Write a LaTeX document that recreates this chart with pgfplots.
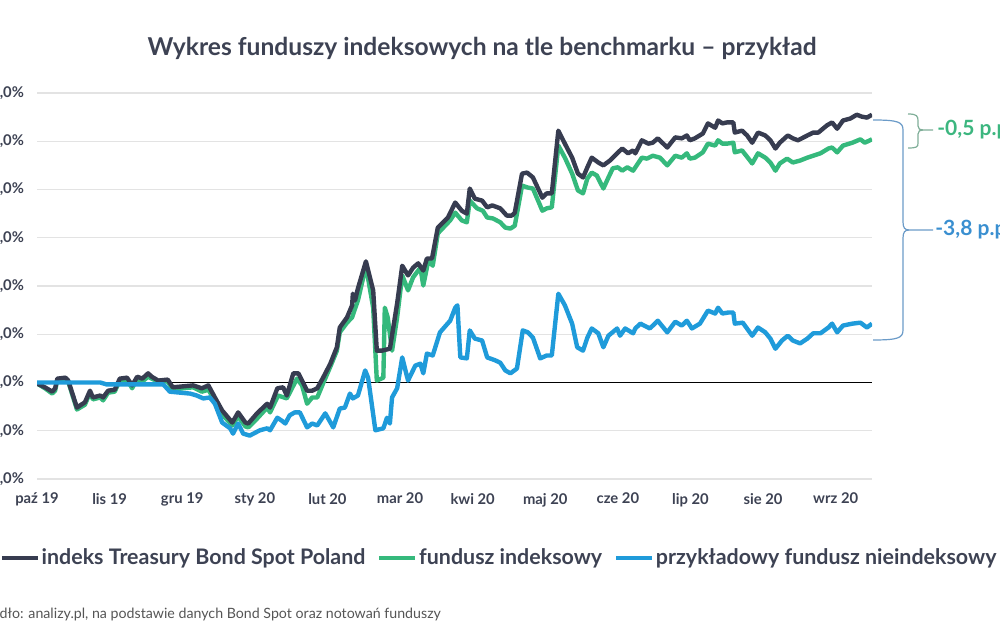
\documentclass[border=0pt]{standalone}
\usepackage{pgfplots}
\usepackage{pgfplotstable}
\pgfplotsset{compat=1.18}
\usepackage{fontspec}
\setmainfont{Lato}
\definecolor{darkc}{HTML}{373C50}
\definecolor{greenc}{HTML}{35B97C}
\definecolor{bluec}{HTML}{1F9BDA}
\definecolor{textc}{HTML}{3D4253}
\definecolor{gridc}{HTML}{E3E3E3}
\definecolor{srcc}{HTML}{555555}
\definecolor{brgreen}{HTML}{7FAE98}
\definecolor{brblue}{HTML}{6B9BC8}
\definecolor{lblgreen}{HTML}{3CB67F}
\definecolor{lblblue}{HTML}{3A8FD0}

\pgfplotstableread{
m v
0 -0.02
0.11 -0.10
0.21 -0.19
0.25 -0.12
0.28 0.08
0.39 0.10
0.43 0.04
0.55 -0.52
0.66 -0.41
0.73 -0.17
0.77 -0.31
0.87 -0.27
0.91 -0.31
0.98 -0.17
1.07 -0.15
1.14 0.08
1.24 0.10
1.31 -0.06
1.38 0.12
1.45 0.08
1.53 0.19
1.58 0.12
1.67 0.04
1.80 0.06
1.87 -0.10
2.01 -0.08
2.15 -0.06
2.27 -0.12
2.36 -0.06
2.45 -0.31
2.55 -0.58
2.69 -0.83
2.77 -0.62
2.87 -0.83
2.91 -0.85
3.03 -0.64
3.17 -0.44
3.21 -0.52
3.31 -0.12
3.39 -0.10
3.44 -0.27
3.53 0.19
3.60 0.19
3.65 0.04
3.72 -0.17
3.79 -0.17
3.86 -0.12
3.94 0.10
4.04 0.39
4.13 0.73
4.17 1.14
4.27 1.35
4.34 1.60
4.35 1.84
4.38 1.70
4.42 1.95
4.53 2.51
4.63 1.91
4.68 0.66
4.75 0.66
4.86 0.70
4.96 1.64
5.03 2.42
5.11 2.22
5.18 2.38
5.25 2.47
5.32 2.32
5.37 2.57
5.44 2.57
5.52 3.21
5.66 3.42
5.76 3.73
5.85 3.56
5.92 3.50
5.96 4.02
6.03 3.81
6.13 3.77
6.20 3.63
6.27 3.67
6.38 3.61
6.47 3.46
6.54 3.46
6.58 3.52
6.68 4.33
6.75 4.35
6.83 4.25
6.96 3.83
7.02 3.92
7.09 3.92
7.18 5.22
7.27 4.95
7.37 4.66
7.45 4.33
7.52 4.25
7.58 4.46
7.64 4.66
7.73 4.56
7.80 4.50
7.89 4.60
7.99 4.75
8.06 4.85
8.14 4.75
8.21 4.81
8.24 4.75
8.33 5.02
8.42 4.95
8.48 4.97
8.55 5.06
8.68 4.87
8.79 5.08
8.88 5.06
8.95 5.12
8.99 5.02
9.06 5.06
9.17 5.16
9.24 5.37
9.34 5.28
9.38 5.43
9.44 5.37
9.50 5.39
9.59 5.39
9.61 5.18
9.71 5.22
9.78 5.12
9.85 4.97
9.93 5.18
10.03 5.12
10.10 5.02
10.17 4.85
10.23 4.97
10.34 5.12
10.41 5.06
10.48 5.02
10.61 5.12
10.69 5.18
10.76 5.18
10.88 5.33
10.95 5.39
11.02 5.26
11.10 5.43
11.20 5.47
11.29 5.55
11.36 5.51
11.43 5.49
11.50 5.55
}\indeks

\pgfplotstableread{
m v
0 -0.02
0.11 -0.12
0.21 -0.23
0.25 -0.17
0.28 0.06
0.39 0.08
0.43 0.02
0.55 -0.56
0.66 -0.46
0.73 -0.21
0.77 -0.35
0.87 -0.31
0.91 -0.37
0.98 -0.21
1.07 -0.19
1.14 0.04
1.24 0.06
1.31 -0.12
1.38 0.08
1.45 0.02
1.53 0.12
1.58 0.08
1.67 0.02
1.80 0.02
1.87 -0.15
2.01 -0.12
2.15 -0.10
2.27 -0.19
2.36 -0.15
2.45 -0.37
2.55 -0.66
2.69 -0.89
2.77 -0.70
2.87 -0.91
2.91 -0.93
3.03 -0.75
3.17 -0.52
3.21 -0.62
3.32 -0.27
3.44 -0.33
3.58 0.08
3.65 -0.06
3.72 -0.44
3.79 -0.31
3.86 -0.31
3.94 -0.02
4.04 0.33
4.13 0.66
4.17 1.04
4.27 1.24
4.34 1.35
4.38 1.53
4.42 1.70
4.53 2.42
4.63 1.55
4.68 0.04
4.77 0.10
4.79 1.55
4.83 1.35
4.89 0.66
4.96 1.35
5.03 2.22
5.11 1.91
5.18 2.18
5.28 2.38
5.32 2.01
5.39 2.53
5.45 2.42
5.52 3.09
5.69 3.36
5.76 3.52
5.85 3.36
5.92 3.32
5.96 3.77
6.06 3.61
6.14 3.56
6.20 3.42
6.28 3.40
6.38 3.32
6.45 3.21
6.52 3.19
6.58 3.25
6.68 4.08
6.76 4.04
6.83 4.02
6.96 3.56
7.02 3.61
7.09 3.63
7.18 4.91
7.27 4.66
7.37 4.33
7.45 3.98
7.52 3.92
7.58 4.23
7.64 4.35
7.71 4.29
7.80 4.02
7.87 4.25
7.93 4.44
8.00 4.46
8.06 4.39
8.13 4.46
8.21 4.39
8.33 4.66
8.40 4.64
8.48 4.70
8.58 4.66
8.68 4.50
8.79 4.70
8.88 4.66
8.95 4.75
8.99 4.64
9.06 4.66
9.17 4.77
9.24 4.95
9.34 4.91
9.38 5.02
9.44 4.95
9.50 4.95
9.59 4.97
9.61 4.77
9.71 4.81
9.82 4.60
9.85 4.54
9.93 4.75
10.03 4.66
10.10 4.56
10.17 4.39
10.23 4.54
10.33 4.64
10.41 4.56
10.51 4.60
10.61 4.66
10.69 4.70
10.79 4.75
10.90 4.85
10.95 4.87
11.02 4.77
11.10 4.91
11.23 4.97
11.34 5.04
11.40 4.97
11.50 5.04
}\fundusz

\pgfplotstableread{
m v
0 0
0.87 0
0.96 -0.04
1.74 -0.04
1.83 -0.19
2.11 -0.23
2.20 -0.27
2.29 -0.33
2.38 -0.31
2.45 -0.44
2.55 -0.83
2.66 -0.95
2.70 -1.06
2.77 -0.85
2.84 -1.06
2.93 -1.10
3.07 -0.99
3.17 -0.95
3.21 -0.99
3.31 -0.73
3.37 -0.79
3.42 -0.85
3.48 -0.68
3.55 -0.62
3.62 -0.62
3.72 -0.93
3.79 -0.85
3.86 -0.89
3.97 -0.64
4.08 -0.93
4.17 -0.54
4.24 -0.52
4.31 -0.23
4.35 -0.33
4.42 -0.27
4.52 0.25
4.56 0.10
4.66 -0.99
4.77 -0.95
4.82 -0.73
4.86 -0.85
4.89 -0.31
4.96 -0.12
5.03 0.52
5.11 0.04
5.21 0.35
5.28 0.39
5.32 0.19
5.37 0.60
5.45 0.56
5.55 1.04
5.69 1.28
5.76 1.55
5.79 1.60
5.83 0.52
5.92 0.50
5.96 1.08
6.03 0.91
6.13 0.87
6.20 0.52
6.31 0.46
6.38 0.41
6.45 0.25
6.52 0.19
6.61 0.29
6.69 1.08
6.76 1.04
6.83 0.93
6.93 0.50
7.02 0.56
7.09 0.56
7.18 1.84
7.27 1.60
7.37 1.22
7.44 0.73
7.52 0.66
7.58 0.93
7.64 1.12
7.73 1.02
7.80 0.73
7.87 0.97
7.99 1.12
8.03 0.97
8.10 1.12
8.21 1.02
8.24 1.12
8.31 1.22
8.44 1.12
8.55 1.28
8.68 1.04
8.79 1.26
8.88 1.18
8.95 1.28
9.02 1.12
9.13 1.22
9.24 1.49
9.34 1.43
9.38 1.55
9.44 1.43
9.52 1.45
9.59 1.45
9.61 1.22
9.72 1.24
9.85 0.97
9.93 1.14
10.03 1.04
10.10 0.91
10.17 0.70
10.26 0.87
10.34 0.97
10.41 0.87
10.51 0.81
10.61 0.91
10.69 1.02
10.79 1.02
10.90 1.14
10.95 1.22
11.02 1.04
11.10 1.18
11.23 1.22
11.34 1.24
11.43 1.14
11.50 1.22
}\nieindeks

\begin{document}
\begin{tikzpicture}
\useasboundingbox (0,0) rectangle (500pt,321pt);
\clip (0,0) rectangle (500pt,321pt);
\begin{axis}[
  at={(18.5pt,81.5pt)}, anchor=south west,
  scale only axis, width=417.5pt, height=193pt,
  xmin=0, xmax=11.5, ymin=-2, ymax=6,
  axis line style={draw=none},
  tick style={draw=none},
  xtick={0,...,11},
  xticklabels={paź 19, lis 19, gru 19, sty 20, lut 20, mar 20, kwi 20, maj 20, cze 20, lip 20, sie 20, wrz 20},
  ytick={-2,-1,0,1,2,3,4,5,6},
  yticklabels={{-2,0\%},{-1,0\%},{0,0\%},{1,0\%},{2,0\%},{3,0\%},{4,0\%},{5,0\%},{6,0\%}},
  ymajorgrids, grid style={draw=gridc, line width=0.6pt},
  extra y ticks={0}, extra y tick labels={},
  extra y tick style={grid style={draw=black, line width=0.6pt}},
  ticklabel style={font=\fontsize{7.4}{8}\selectfont\bfseries, text=textc},
  xticklabel style={yshift=-3.5pt},
  yticklabel style={xshift=-3pt},
  legend style={at={(0.553,-0.205)}, anchor=center, draw=none, fill=none,
    legend columns=3, font=\fontsize{10.7}{12}\selectfont\bfseries, text=textc,
    /tikz/every even column/.append style={column sep=5pt},
    inner sep=0pt, nodes={inner sep=0.8pt}},
  legend image code/.code={\draw[#1, line width=2.3pt] (0,0) -- (18pt,0);},
  every axis plot/.append style={line width=2.2pt, line join=round},
]
\addlegendimage{draw=darkc}
\addlegendentry{indeks Treasury Bond Spot Poland}
\addlegendimage{draw=greenc}
\addlegendentry{fundusz indeksowy}
\addlegendimage{draw=bluec}
\addlegendentry{przykładowy fundusz nieindeksowy}
\addplot[greenc, forget plot] table[x=m, y=v] {\fundusz};
\addplot[darkc, forget plot] table[x=m, y=v] {\indeks};
\addplot[bluec, forget plot] table[x=m, y=v] {\nieindeks};
\end{axis}
\node[font=\fontsize{12.3}{14}\selectfont\bfseries, text=textc] at (241pt,297pt) {Wykres funduszy indeksowych na tle benchmarku – przykład};
\node[font=\fontsize{7.1}{8}\selectfont, text=srcc, anchor=base west, inner sep=0pt] at (-11pt,12pt) {Źródło: analizy.pl, na podstawie danych Bond Spot oraz notowań funduszy};
\begin{scope}[x=0.5pt, y=-0.5pt, yshift=321pt]
\draw[brgreen, line width=0.6pt] (908,114) .. controls (917,114) and (918,116) .. (918,121) -- (918,126) .. controls (918,129) and (920,130) .. (923,130) -- (933,130);
\draw[brgreen, line width=0.6pt] (923,130) .. controls (920,130) and (918,131) .. (918,134) -- (918,143) .. controls (918,147) and (917,148) .. (908,148);
\draw[brblue, line width=0.6pt] (873,120) .. controls (898,120) and (903,122) .. (903,130) -- (903,222) .. controls (903,228) and (905,230) .. (909,230) -- (933,230);
\draw[brblue, line width=0.6pt] (909,230) .. controls (905,230) and (903,232) .. (903,238) -- (903,330) .. controls (903,338) and (898,340) .. (873,340);
\node[anchor=west, inner sep=0pt, text=lblgreen, font=\fontsize{10.5}{12}\selectfont\bfseries] at (937,130) {-0,5 p.p.};
\node[anchor=west, inner sep=0pt, text=lblblue, font=\fontsize{10.5}{12}\selectfont\bfseries] at (935,230) {-3,8 p.p.};
\end{scope}
\end{tikzpicture}
\end{document}
